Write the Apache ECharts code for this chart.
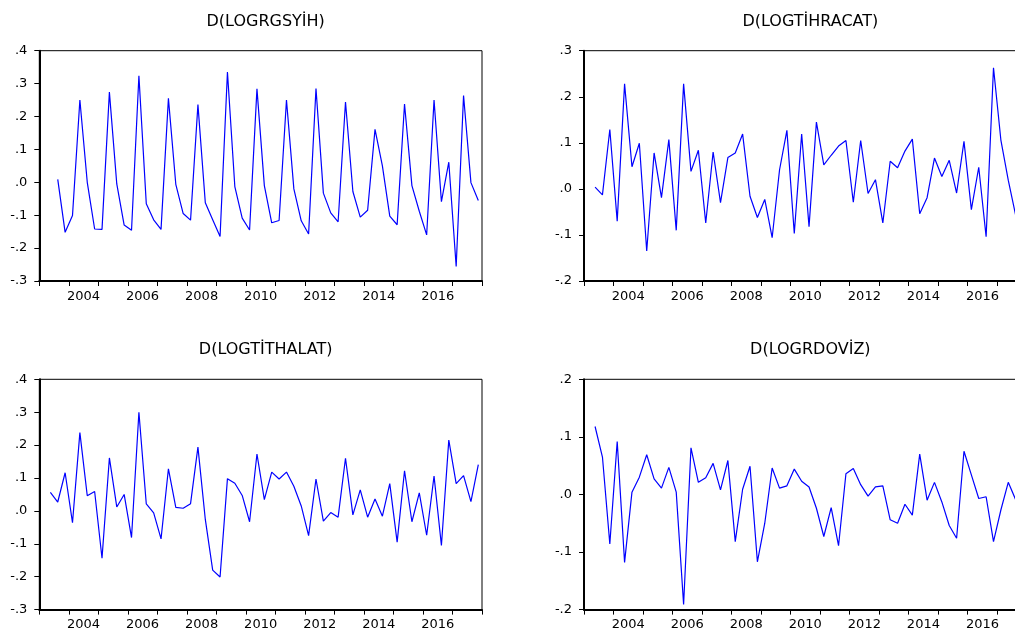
<!DOCTYPE html>
<html>
<head>
<meta charset="utf-8">
<script src="https://cdn.jsdelivr.net/npm/echarts@6/dist/echarts.min.js"></script>
<style>
  html, body { margin: 0; padding: 0; background: #fff; }
  #main { width: 1015px; height: 635px; }
</style>
</head>
<body>
<div id="main"></div>
<script>
// quarterly slots, slot 0 = 2003Q1, 60 slots up to 2017Q4
var titles = ["D(LOGRGSYİH)", "D(LOGTİHRACAT)", "D(LOGTİTHALAT)", "D(LOGRDOVİZ)"];
var firstSlot = [2, 1, 1, 1];

var gsyih = [0.009, -0.152, -0.101, 0.250, 0.000, -0.142, -0.143, 0.274, -0.005, -0.130,
  -0.146, 0.324, -0.065, -0.114, -0.143, 0.255, -0.006, -0.095, -0.115, 0.236,
  -0.062, -0.114, -0.165, 0.335, -0.013, -0.109, -0.145, 0.284, -0.010, -0.123,
  -0.116, 0.250, -0.020, -0.117, -0.157, 0.285, -0.033, -0.093, -0.120, 0.244,
  -0.028, -0.106, -0.085, 0.161, 0.050, -0.103, -0.129, 0.238, -0.010, -0.088,
  -0.160, 0.250, -0.059, 0.061, -0.256, 0.264, -0.001, -0.055];

var ihracat = [0.004, -0.013, 0.129, -0.070, 0.228, 0.048, 0.099, -0.135, 0.078, -0.019,
  0.107, -0.090, 0.228, 0.038, 0.084, -0.074, 0.080, -0.030, 0.068, 0.078,
  0.119, -0.016, -0.062, -0.023, -0.106, 0.041, 0.127, -0.097, 0.119, -0.082,
  0.145, 0.052, 0.073, 0.093, 0.105, -0.029, 0.105, -0.010, 0.020, -0.074,
  0.060, 0.046, 0.082, 0.108, -0.054, -0.019, 0.067, 0.027, 0.062, -0.009,
  0.103, -0.045, 0.047, -0.104, 0.263, 0.106, 0.019, -0.057];

var ithalat = [0.056, 0.027, 0.116, -0.036, 0.238, 0.046, 0.059, -0.144, 0.161, 0.012,
  0.050, -0.081, 0.300, 0.021, -0.006, -0.085, 0.128, 0.011, 0.008, 0.022,
  0.194, -0.026, -0.180, -0.201, 0.098, 0.084, 0.047, -0.033, 0.173, 0.034,
  0.118, 0.097, 0.118, 0.075, 0.015, -0.075, 0.097, -0.031, -0.005, -0.019,
  0.160, -0.012, 0.064, -0.019, 0.036, -0.016, 0.083, -0.095, 0.122, -0.033,
  0.055, -0.074, 0.106, -0.105, 0.215, 0.083, 0.107, 0.028, 0.141];

var doviz = [0.118, 0.065, -0.086, 0.092, -0.118, 0.004, 0.030, 0.069, 0.027, 0.011,
  0.047, 0.004, -0.191, 0.081, 0.021, 0.029, 0.054, 0.008, 0.059, -0.082,
  0.009, 0.049, -0.117, -0.050, 0.046, 0.011, 0.015, 0.044, 0.023, 0.013,
  -0.024, -0.073, -0.023, -0.089, 0.036, 0.045, 0.017, -0.003, 0.013, 0.015,
  -0.044, -0.050, -0.017, -0.036, 0.070, -0.010, 0.021, -0.013, -0.054, -0.076,
  0.075, 0.034, -0.007, -0.004, -0.082, -0.027, 0.021, -0.009];

var seriesData = [gsyih, ihracat, ithalat, doviz];
var yMin = [-0.3, -0.2, -0.3, -0.2];
var yMax = [0.4, 0.3, 0.4, 0.2];

var FONT = "DejaVu Sans";
var boxes = [
  { left: 39.3, top: 50.7 },
  { left: 584, top: 50.7 },
  { left: 39.3, top: 379.3 },
  { left: 584, top: 379.3 }
];
var W = 442.7, H = 230.3;

function yLabel(v) {
  var s = v.toFixed(1);
  return s.replace("0.", ".");
}

var option = { animation: false, title: [], grid: [], xAxis: [], yAxis: [], series: [] };

for (var p = 0; p < 4; p++) {
  var b = boxes[p];
  option.title.push({
    text: titles[p],
    left: b.left + W / 2,
    top: b.top - 42,
    textAlign: "center",
    textStyle: { fontFamily: FONT, fontSize: 16, fontWeight: "normal", color: "#000" }
  });
  option.grid.push({
    left: b.left, top: b.top, width: W, height: H,
    containLabel: false, outerBoundsMode: "none",
    show: true, borderColor: "#000", borderWidth: 1
  });
  // tick axis (year boundaries)
  option.xAxis.push({
    type: "value", gridIndex: p, position: "bottom", min: 0, max: 60, interval: 4,
    axisLine: { show: true, onZero: false, lineStyle: { color: "#000", width: 2 } },
    axisTick: { show: true, length: 5, lineStyle: { color: "#000", width: 1 } },
    axisLabel: { show: false },
    splitLine: { show: false }
  });
  // label axis (year names centred in the year)
  option.xAxis.push({
    type: "value", gridIndex: p, position: "bottom", min: 0, max: 60, interval: 2,
    axisLine: { show: false, onZero: false },
    axisTick: { show: false },
    splitLine: { show: false },
    axisLabel: {
      margin: 9,
      fontFamily: FONT, fontSize: 13, color: "#000",
      formatter: function (v) {
        return (v % 8 === 6) ? String(2003 + (v - 2) / 4) : "";
      }
    }
  });
  option.yAxis.push({
    type: "value", gridIndex: p, min: yMin[p], max: yMax[p], interval: 0.1,
    axisLine: { show: true, onZero: false, lineStyle: { color: "#000", width: 2 } },
    axisTick: { show: true, length: 5, lineStyle: { color: "#000", width: 1 } },
    axisLabel: { margin: 12, fontFamily: FONT, fontSize: 13, color: "#000", formatter: yLabel },
    splitLine: { show: false }
  });
  var vals = seriesData[p];
  var pts = [];
  for (var i = 0; i < vals.length; i++) {
    pts.push([firstSlot[p] + i + 0.5, vals[i]]);
  }
  option.series.push({
    type: "line", xAxisIndex: p * 2, yAxisIndex: p,
    data: pts, symbol: "none",
    lineStyle: { color: "#0000ff", width: 1.2 }
  });
}

var chart = echarts.init(document.getElementById("main"));
chart.setOption(option);
</script>
</body>
</html>
